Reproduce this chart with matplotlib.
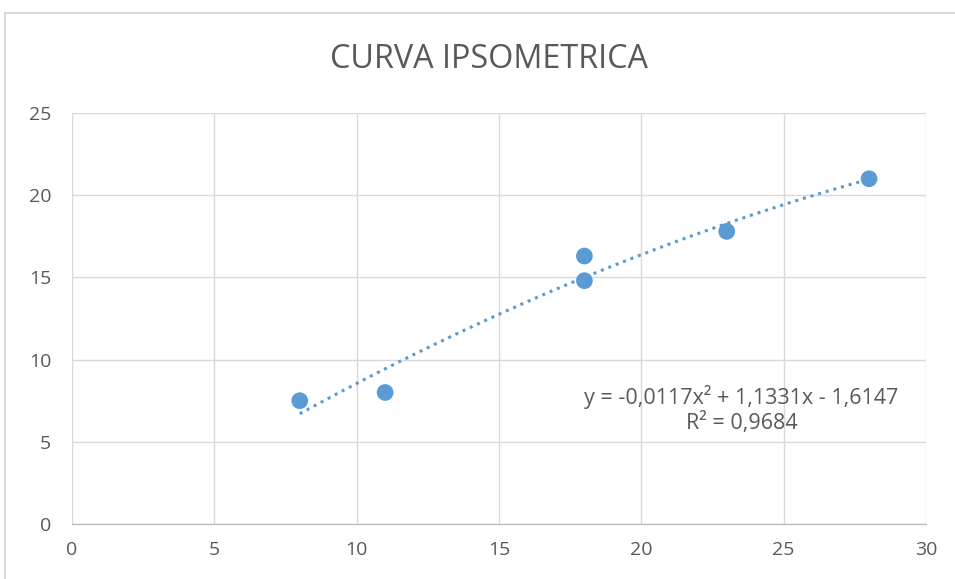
import numpy as np
import matplotlib
matplotlib.use("Agg")
import matplotlib.pyplot as plt
from matplotlib.lines import Line2D

x_vals = [8, 11, 18, 18, 23, 28]
y_vals = [7.5, 8.0, 16.3, 14.8, 17.8, 21.0]
x_ticks = [0, 5, 10, 15, 20, 25, 30]
y_ticks = [0, 5, 10, 15, 20, 25]
title = "CURVA IPSOMETRICA"
eq_text = "y = -0,0117x² + 1,1331x - 1,6147\nR² = 0,9684"

plt.rcParams['font.family'] = ['Open Sans', 'DejaVu Sans']

fig = plt.figure(figsize=(9.55, 5.79), dpi=100)
ax = fig.add_axes([72/955, 55/579, 854/955, 411/579])

blue = '#5B9BD5'
grid_c = '#d9d9d9'
txt_c = '#595959'

coef = np.polyfit(x_vals, y_vals, 2)
xs = np.linspace(min(x_vals), max(x_vals), 200)
ax.plot(xs, np.polyval(coef, xs), linestyle=(0, (1, 1.6)), color=blue, lw=2.2, zorder=2)
ax.scatter(x_vals, y_vals, s=145, color=blue, zorder=3, edgecolors='none')

ax.set_xlim(0, 30)
ax.set_ylim(0, 25)
ax.set_xticks(x_ticks)
ax.set_yticks(y_ticks)
ax.grid(True, color=grid_c, lw=1)
ax.set_axisbelow(True)
for s in ['top', 'right', 'left']:
    ax.spines[s].set_visible(False)
ax.spines['bottom'].set_color('#bfbfbf')
ax.spines['bottom'].set_linewidth(1)
ax.tick_params(axis='both', length=0, labelsize=14, colors=txt_c, pad=12)
ax.tick_params(axis='y', pad=15)

ax.text(23.52, 6.95, eq_text, ha='center', va='center', fontsize=15.5, color=txt_c,
        linespacing=1.15)

fig.text(489/955, 1 - 60/579, title, ha='center', va='center', fontsize=23.3, color=txt_c)

fig.add_artist(Line2D([5/955, 1], [1 - 13/579, 1 - 13/579], color='#d9d9d9', lw=1.5))
fig.add_artist(Line2D([5/955, 5/955], [0, 1 - 13/579], color='#d9d9d9', lw=1.5))

fig.savefig('out.png', dpi=100)
